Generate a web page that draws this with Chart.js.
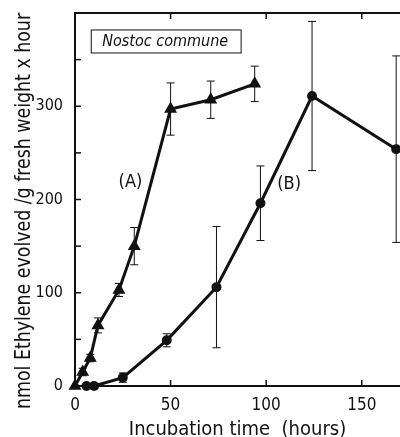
<!DOCTYPE html>
<html><head><meta charset="utf-8">
<script src="https://cdn.jsdelivr.net/npm/chart.js@4.4.1/dist/chart.umd.min.js"></script>
<style>html,body{margin:0;padding:0;background:#fff;}#wrap{width:400px;height:437px;position:relative;}</style>
</head><body><div id="wrap"><canvas id="c" width="400" height="437"></canvas></div>
<script>
const FONT = "'DejaVu Sans Condensed', 'Liberation Sans', sans-serif";
// Series A (triangles)
const aHours = [0, 4, 8, 12, 23, 31, 50, 71, 94];
const aValues = [0, 15, 30, 65, 103, 150, 297, 307, 324];
const aErr = [0, 4, 4, 8, 7, 20, 28, 20, 19];
// Series B (circles)
const bHours = [6, 10, 25, 48, 74, 97, 124, 168];
const bValues = [0, 0, 9, 49, 106, 196, 311, 254];
const bErr = [0, 3, 5, 7, 65, 40, 80, 100];
const xTicks = [0, 50, 100, 150];
const yTicks = [0, 100, 200, 300];
const xMinor = [50, 100, 150];
const yMinor = [50, 100, 150, 200, 250, 300, 350];
const legendText = 'Nostoc commune';
const labelA = '(A)', labelB = '(B)';
const xTitle = 'Incubation time  (hours)';
const yTitle = 'nmol Ethylene evolved /g fresh weight x hour';

const toPts = (xs, ys) => xs.map((x, i) => ({x, y: ys[i]}));
const noPad = s => { s.paddingTop = 0; s.paddingBottom = 0; s.paddingLeft = 0; s.paddingRight = 0; };

const deco = {
  id: 'deco',
  beforeDatasetsDraw(chart) {
    const {ctx, scales: {x, y}, chartArea: ca} = chart;
    ctx.save();
    ctx.strokeStyle = '#111';
    ctx.lineWidth = 2;
    ctx.beginPath(); ctx.moveTo(ca.left, ca.top); ctx.lineTo(ca.right, ca.top); ctx.stroke();
    ctx.lineWidth = 1.5;
    xMinor.forEach(v => {
      const px = x.getPixelForValue(v);
      ctx.beginPath(); ctx.moveTo(px, ca.bottom); ctx.lineTo(px, ca.bottom - 6); ctx.stroke();
      ctx.beginPath(); ctx.moveTo(px, ca.top); ctx.lineTo(px, ca.top + 6); ctx.stroke();
    });
    yMinor.forEach(v => {
      const py = y.getPixelForValue(v);
      ctx.beginPath(); ctx.moveTo(ca.left, py); ctx.lineTo(ca.left + 6, py); ctx.stroke();
    });
    ctx.lineWidth = 1;
    const drawErr = (xs, ys, es) => xs.forEach((hv, i) => {
      if (!es[i]) return;
      const px = x.getPixelForValue(hv);
      const p1 = y.getPixelForValue(ys[i] + es[i]);
      const p2 = y.getPixelForValue(ys[i] - es[i]);
      ctx.beginPath();
      ctx.moveTo(px, p1); ctx.lineTo(px, p2);
      ctx.moveTo(px - 4, p1); ctx.lineTo(px + 4, p1);
      ctx.moveTo(px - 4, p2); ctx.lineTo(px + 4, p2);
      ctx.stroke();
    });
    drawErr(aHours, aValues, aErr);
    drawErr(bHours, bValues, bErr);
    ctx.font = 'italic 16px ' + FONT;
    ctx.fillStyle = '#111';
    ctx.textBaseline = 'middle';
    ctx.textAlign = 'left';
    const lx = x.getPixelForValue(8.5), ly = y.getPixelForValue(370);
    const tw = ctx.measureText(legendText).width;
    ctx.strokeRect(lx, ly - 11, tw + 24, 23);
    ctx.fillText(legendText, lx + 11, ly + 1);
    ctx.font = '18px ' + FONT;
    ctx.textAlign = 'center';
    ctx.fillText(labelA, x.getPixelForValue(29), y.getPixelForValue(218));
    ctx.fillText(labelB, x.getPixelForValue(112), y.getPixelForValue(216));
    ctx.textBaseline = 'alphabetic';
    ctx.font = '20px ' + FONT;
    ctx.fillText(xTitle, (ca.left + ca.right) / 2, 435);
    ctx.translate(30, 211);
    ctx.rotate(-Math.PI / 2);
    ctx.scale(0.92, 1);
    ctx.font = '21px ' + FONT;
    ctx.fillText(yTitle, 0, 0);
    ctx.restore();
  }
};

new Chart(document.getElementById('c'), {
  type: 'scatter',
  data: {
    datasets: [
      {data: toPts(aHours, aValues), showLine: true, borderColor: '#111', borderWidth: 3,
       pointStyle: 'triangle', pointRadius: 4.5, pointBackgroundColor: '#111', pointBorderColor: '#111', clip: false},
      {data: toPts(bHours, bValues), showLine: true, borderColor: '#111', borderWidth: 3,
       pointStyle: 'circle', pointRadius: 3.5, pointBackgroundColor: '#111', pointBorderColor: '#111', clip: false}
    ]
  },
  options: {
    responsive: false, animation: false,
    layout: {autoPadding: false, padding: {top: 13, right: 0, left: 0, bottom: 0}},
    plugins: {legend: {display: false}, tooltip: {enabled: false}},
    scales: {
      x: {
        type: 'linear', min: 0, max: 170,
        afterFit: s => { s.height = 51; noPad(s); },
        afterBuildTicks: s => { s.ticks = xTicks.map(v => ({value: v})); },
        grid: {display: false, drawTicks: false},
        border: {display: true, color: '#111', width: 2},
        ticks: {color: '#111', padding: 9, font: {family: FONT, size: 17}, maxRotation: 0}
      },
      y: {
        min: 0, max: 400,
        afterFit: s => { s.width = 75; noPad(s); },
        afterBuildTicks: s => { s.ticks = yTicks.map(v => ({value: v})); },
        grid: {display: false, drawTicks: false},
        border: {display: true, color: '#111', width: 2},
        ticks: {color: '#111', padding: 12, font: {family: FONT, size: 16}}
      }
    }
  },
  plugins: [deco]
});
</script></body></html>
